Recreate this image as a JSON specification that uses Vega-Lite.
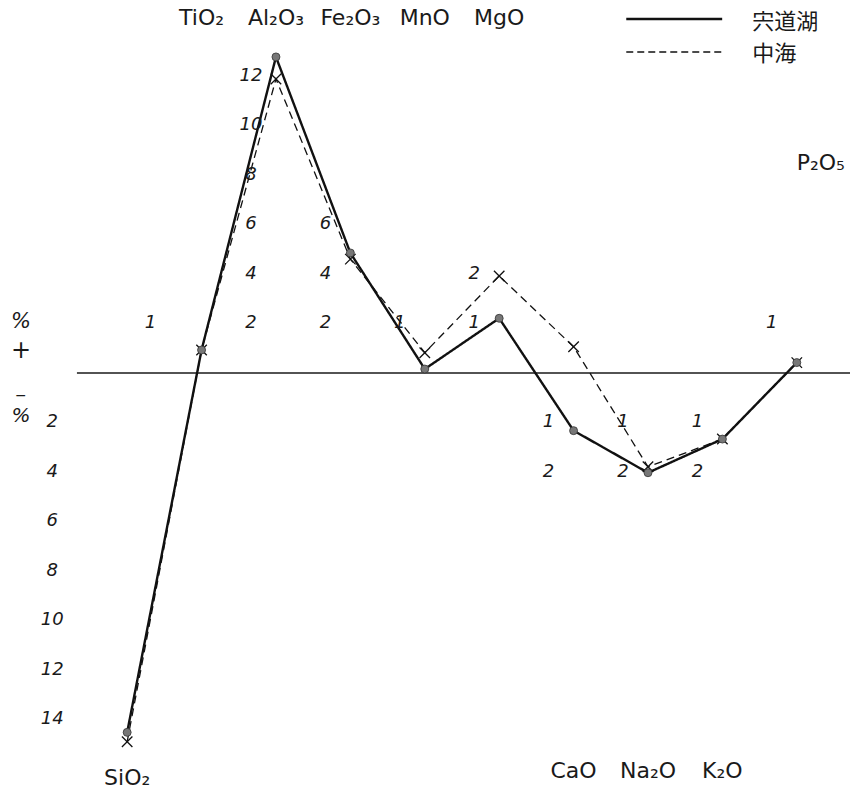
{
  "$schema": "https://vega.github.io/schema/vega-lite/v6.json",
  "width": 851,
  "height": 793,
  "autosize": {"type": "fit", "contains": "padding"},
  "padding": 0,
  "background": "white",
  "config": {
    "view": {"stroke": null},
    "axis": {"disable": true},
    "text": {"font": "DejaVu Sans", "color": "#1a1a1a"}
  },
  "datasets": {
    "chem": [
      {"oxide": "SiO₂", "idx": 1, "lake": "宍道湖", "dev": -14.52},
      {"oxide": "TiO₂", "idx": 2, "lake": "宍道湖", "dev": 0.93},
      {"oxide": "Al₂O₃", "idx": 3, "lake": "宍道湖", "dev": 12.77},
      {"oxide": "Fe₂O₃", "idx": 4, "lake": "宍道湖", "dev": 4.85},
      {"oxide": "MnO", "idx": 5, "lake": "宍道湖", "dev": 0.16},
      {"oxide": "MgO", "idx": 6, "lake": "宍道湖", "dev": 2.21},
      {"oxide": "CaO", "idx": 7, "lake": "宍道湖", "dev": -2.33},
      {"oxide": "Na₂O", "idx": 8, "lake": "宍道湖", "dev": -4.03},
      {"oxide": "K₂O", "idx": 9, "lake": "宍道湖", "dev": -2.67},
      {"oxide": "P₂O₅", "idx": 10, "lake": "宍道湖", "dev": 0.42},
      {"oxide": "SiO₂", "idx": 1, "lake": "中海", "dev": -14.9},
      {"oxide": "TiO₂", "idx": 2, "lake": "中海", "dev": 0.93},
      {"oxide": "Al₂O₃", "idx": 3, "lake": "中海", "dev": 11.88},
      {"oxide": "Fe₂O₃", "idx": 4, "lake": "中海", "dev": 4.6},
      {"oxide": "MnO", "idx": 5, "lake": "中海", "dev": 0.82},
      {"oxide": "MgO", "idx": 6, "lake": "中海", "dev": 3.92},
      {"oxide": "CaO", "idx": 7, "lake": "中海", "dev": 1.06},
      {"oxide": "Na₂O", "idx": 8, "lake": "中海", "dev": -3.79},
      {"oxide": "K₂O", "idx": 9, "lake": "中海", "dev": -2.67},
      {"oxide": "P₂O₅", "idx": 10, "lake": "中海", "dev": 0.42}
    ],
    "oxides": [
      {"oxide": "SiO₂", "idx": 1, "side": "bottom"},
      {"oxide": "TiO₂", "idx": 2, "side": "top"},
      {"oxide": "Al₂O₃", "idx": 3, "side": "top"},
      {"oxide": "Fe₂O₃", "idx": 4, "side": "top"},
      {"oxide": "MnO", "idx": 5, "side": "top"},
      {"oxide": "MgO", "idx": 6, "side": "top"},
      {"oxide": "CaO", "idx": 7, "side": "bottom"},
      {"oxide": "Na₂O", "idx": 8, "side": "bottom"},
      {"oxide": "K₂O", "idx": 9, "side": "bottom"},
      {"oxide": "P₂O₅", "idx": 10, "side": "right"}
    ],
    "ticks": [
      {"idx": 1, "lvl": -2, "txt": "2"},
      {"idx": 1, "lvl": -4, "txt": "4"},
      {"idx": 1, "lvl": -6, "txt": "6"},
      {"idx": 1, "lvl": -8, "txt": "8"},
      {"idx": 1, "lvl": -10, "txt": "10"},
      {"idx": 1, "lvl": -12, "txt": "12"},
      {"idx": 1, "lvl": -14, "txt": "14"},
      {"idx": 2, "lvl": 2, "txt": "1"},
      {"idx": 3, "lvl": 2, "txt": "2"},
      {"idx": 3, "lvl": 4, "txt": "4"},
      {"idx": 3, "lvl": 6, "txt": "6"},
      {"idx": 3, "lvl": 8, "txt": "8"},
      {"idx": 3, "lvl": 10, "txt": "10"},
      {"idx": 3, "lvl": 12, "txt": "12"},
      {"idx": 4, "lvl": 2, "txt": "2"},
      {"idx": 4, "lvl": 4, "txt": "4"},
      {"idx": 4, "lvl": 6, "txt": "6"},
      {"idx": 5, "lvl": 2, "txt": "1"},
      {"idx": 6, "lvl": 2, "txt": "1"},
      {"idx": 6, "lvl": 4, "txt": "2"},
      {"idx": 7, "lvl": -2, "txt": "1"},
      {"idx": 7, "lvl": -4, "txt": "2"},
      {"idx": 8, "lvl": -2, "txt": "1"},
      {"idx": 8, "lvl": -4, "txt": "2"},
      {"idx": 9, "lvl": -2, "txt": "1"},
      {"idx": 9, "lvl": -4, "txt": "2"},
      {"idx": 10, "lvl": 2, "txt": "1"}
    ]
  },
  "layer": [
    {
      "description": "zero-deviation baseline",
      "data": {"values": [{}]},
      "mark": {"type": "rule", "stroke": "#1a1a1a", "strokeWidth": 1.4},
      "encoding": {
        "x": {"datum": 0.325, "type": "quantitative", "scale": {"domain": [-0.709, 10.715], "nice": false, "zero": false}},
        "x2": {"datum": 10.715},
        "y": {"datum": 0, "type": "quantitative", "scale": {"domain": [-16.97, 15.07], "nice": false, "zero": false}}
      }
    },
    {
      "data": {"name": "chem"},
      "mark": {"type": "line", "color": "#111"},
      "encoding": {
        "x": {"field": "idx", "type": "quantitative", "scale": {"domain": [-0.709, 10.715], "nice": false, "zero": false}},
        "y": {"field": "dev", "type": "quantitative", "scale": {"domain": [-16.97, 15.07], "nice": false, "zero": false}},
        "strokeDash": {"field": "lake", "type": "nominal", "scale": {"domain": ["宍道湖", "中海"], "range": [[1, 0], [8, 5]]}, "legend": null},
        "strokeWidth": {"field": "lake", "type": "nominal", "scale": {"domain": ["宍道湖", "中海"], "range": [2.4, 1.3]}, "legend": null}
      }
    },
    {
      "data": {"name": "chem"},
      "transform": [{"filter": "datum.lake === '中海'"}],
      "mark": {"type": "point", "shape": "M-1,-1L1,1M-1,1L1,-1", "filled": false, "stroke": "#111", "strokeWidth": 1.3, "size": 110, "opacity": 1},
      "encoding": {
        "x": {"field": "idx", "type": "quantitative", "scale": {"domain": [-0.709, 10.715], "nice": false, "zero": false}},
        "y": {"field": "dev", "type": "quantitative", "scale": {"domain": [-16.97, 15.07], "nice": false, "zero": false}}
      }
    },
    {
      "data": {"name": "chem"},
      "transform": [{"filter": "datum.lake === '宍道湖'"}],
      "mark": {"type": "point", "shape": "circle", "filled": true, "fill": "#777", "stroke": "#333", "strokeWidth": 0.8, "size": 64, "opacity": 1},
      "encoding": {
        "x": {"field": "idx", "type": "quantitative", "scale": {"domain": [-0.709, 10.715], "nice": false, "zero": false}},
        "y": {"field": "dev", "type": "quantitative", "scale": {"domain": [-16.97, 15.07], "nice": false, "zero": false}}
      }
    },
    {
      "data": {"name": "oxides"},
      "transform": [{"filter": "datum.side === 'top'"}],
      "mark": {"type": "text", "fontSize": 22, "align": "center", "baseline": "middle"},
      "encoding": {
        "x": {"field": "idx", "type": "quantitative", "scale": {"domain": [-0.709, 10.715], "nice": false, "zero": false}},
        "y": {"datum": 14.36, "type": "quantitative", "scale": {"domain": [-16.97, 15.07], "nice": false, "zero": false}},
        "text": {"field": "oxide"}
      }
    },
    {
      "data": {"name": "oxides"},
      "transform": [{"filter": "datum.side === 'bottom' && datum.idx > 1"}],
      "mark": {"type": "text", "fontSize": 22, "align": "center", "baseline": "middle"},
      "encoding": {
        "x": {"field": "idx", "type": "quantitative", "scale": {"domain": [-0.709, 10.715], "nice": false, "zero": false}},
        "y": {"datum": -16.1, "type": "quantitative", "scale": {"domain": [-16.97, 15.07], "nice": false, "zero": false}},
        "text": {"field": "oxide"}
      }
    },
    {
      "data": {"name": "oxides"},
      "transform": [{"filter": "datum.side === 'bottom' && datum.idx === 1"}],
      "mark": {"type": "text", "fontSize": 22, "align": "center", "baseline": "middle"},
      "encoding": {
        "x": {"field": "idx", "type": "quantitative", "scale": {"domain": [-0.709, 10.715], "nice": false, "zero": false}},
        "y": {"datum": -16.35, "type": "quantitative", "scale": {"domain": [-16.97, 15.07], "nice": false, "zero": false}},
        "text": {"field": "oxide"}
      }
    },
    {
      "data": {"name": "oxides"},
      "transform": [{"filter": "datum.side === 'right'"}],
      "mark": {"type": "text", "fontSize": 22, "align": "center", "baseline": "middle", "dx": 24},
      "encoding": {
        "x": {"field": "idx", "type": "quantitative", "scale": {"domain": [-0.709, 10.715], "nice": false, "zero": false}},
        "y": {"datum": 8.48, "type": "quantitative", "scale": {"domain": [-16.97, 15.07], "nice": false, "zero": false}},
        "text": {"field": "oxide"}
      }
    },
    {
      "description": "left-hand scale, shared with SiO2",
      "data": {"name": "ticks"},
      "transform": [{"filter": "datum.idx === 1"}],
      "mark": {"type": "text", "fontSize": 18, "fontStyle": "italic", "align": "center", "baseline": "middle", "dx": -75},
      "encoding": {
        "x": {"field": "idx", "type": "quantitative", "scale": {"domain": [-0.709, 10.715], "nice": false, "zero": false}},
        "y": {"field": "lvl", "type": "quantitative", "scale": {"domain": [-16.97, 15.07], "nice": false, "zero": false}},
        "text": {"field": "txt"}
      }
    },
    {
      "data": {"name": "ticks"},
      "transform": [{"filter": "datum.idx === 2"}],
      "mark": {"type": "text", "fontSize": 18, "fontStyle": "italic", "align": "center", "baseline": "middle", "dx": -51},
      "encoding": {
        "x": {"field": "idx", "type": "quantitative", "scale": {"domain": [-0.709, 10.715], "nice": false, "zero": false}},
        "y": {"field": "lvl", "type": "quantitative", "scale": {"domain": [-16.97, 15.07], "nice": false, "zero": false}},
        "text": {"field": "txt"}
      }
    },
    {
      "data": {"name": "ticks"},
      "transform": [{"filter": "datum.idx > 2"}],
      "mark": {"type": "text", "fontSize": 18, "fontStyle": "italic", "align": "center", "baseline": "middle", "dx": -25},
      "encoding": {
        "x": {"field": "idx", "type": "quantitative", "scale": {"domain": [-0.709, 10.715], "nice": false, "zero": false}},
        "y": {"field": "lvl", "type": "quantitative", "scale": {"domain": [-16.97, 15.07], "nice": false, "zero": false}},
        "text": {"field": "txt"}
      }
    },
    {
      "description": "sign marks: upper percent",
      "data": {"values": [{}]},
      "mark": {"type": "text", "fontSize": 21, "align": "center", "baseline": "middle", "text": "%", "fontStyle": "italic"},
      "encoding": {
        "x": {"datum": -0.427, "type": "quantitative", "scale": {"domain": [-0.709, 10.715], "nice": false, "zero": false}},
        "y": {"datum": 2.06, "type": "quantitative", "scale": {"domain": [-16.97, 15.07], "nice": false, "zero": false}}
      }
    },
    {
      "description": "sign marks: plus",
      "data": {"values": [{}]},
      "mark": {"type": "text", "fontSize": 24, "align": "center", "baseline": "middle", "text": "+"},
      "encoding": {
        "x": {"datum": -0.427, "type": "quantitative", "scale": {"domain": [-0.709, 10.715], "nice": false, "zero": false}},
        "y": {"datum": 0.89, "type": "quantitative", "scale": {"domain": [-16.97, 15.07], "nice": false, "zero": false}}
      }
    },
    {
      "description": "sign marks: minus",
      "data": {"values": [{}]},
      "mark": {"type": "text", "fontSize": 14, "align": "center", "baseline": "middle", "text": "−"},
      "encoding": {
        "x": {"datum": -0.427, "type": "quantitative", "scale": {"domain": [-0.709, 10.715], "nice": false, "zero": false}},
        "y": {"datum": -0.93, "type": "quantitative", "scale": {"domain": [-16.97, 15.07], "nice": false, "zero": false}}
      }
    },
    {
      "description": "sign marks: lower percent",
      "data": {"values": [{}]},
      "mark": {"type": "text", "fontSize": 20, "align": "center", "baseline": "middle", "text": "%", "fontStyle": "italic"},
      "encoding": {
        "x": {"datum": -0.427, "type": "quantitative", "scale": {"domain": [-0.709, 10.715], "nice": false, "zero": false}},
        "y": {"datum": -1.74, "type": "quantitative", "scale": {"domain": [-16.97, 15.07], "nice": false, "zero": false}}
      }
    },
    {
      "description": "key: solid line",
      "data": {"values": [{}]},
      "mark": {"type": "rule", "stroke": "#111", "strokeWidth": 2.4},
      "encoding": {
        "x": {"datum": 7.708, "type": "quantitative", "scale": {"domain": [-0.709, 10.715], "nice": false, "zero": false}},
        "x2": {"datum": 8.997},
        "y": {"datum": 14.3, "type": "quantitative", "scale": {"domain": [-16.97, 15.07], "nice": false, "zero": false}}
      }
    },
    {
      "description": "key: dashed line",
      "data": {"values": [{}]},
      "mark": {"type": "rule", "stroke": "#111", "strokeWidth": 1.3, "strokeDash": [7, 4]},
      "encoding": {
        "x": {"datum": 7.708, "type": "quantitative", "scale": {"domain": [-0.709, 10.715], "nice": false, "zero": false}},
        "x2": {"datum": 8.997},
        "y": {"datum": 12.97, "type": "quantitative", "scale": {"domain": [-16.97, 15.07], "nice": false, "zero": false}}
      }
    },
    {
      "data": {"values": [{}]},
      "mark": {"type": "text", "font": "Noto Sans CJK JP", "fontSize": 22, "align": "left", "baseline": "middle", "text": "宍道湖", "letterSpacing": 3},
      "encoding": {
        "x": {"datum": 9.4, "type": "quantitative", "scale": {"domain": [-0.709, 10.715], "nice": false, "zero": false}},
        "y": {"datum": 14.18, "type": "quantitative", "scale": {"domain": [-16.97, 15.07], "nice": false, "zero": false}}
      }
    },
    {
      "data": {"values": [{}]},
      "mark": {"type": "text", "font": "Noto Sans CJK JP", "fontSize": 22, "align": "left", "baseline": "middle", "text": "中海", "letterSpacing": 3},
      "encoding": {
        "x": {"datum": 9.4, "type": "quantitative", "scale": {"domain": [-0.709, 10.715], "nice": false, "zero": false}},
        "y": {"datum": 12.89, "type": "quantitative", "scale": {"domain": [-16.97, 15.07], "nice": false, "zero": false}}
      }
    }
  ]
}
